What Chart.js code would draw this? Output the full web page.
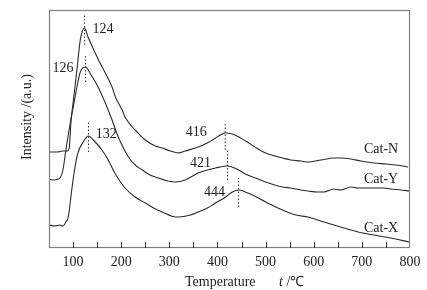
<!DOCTYPE html>
<html><head><meta charset="utf-8">
<script src="https://cdn.jsdelivr.net/npm/chart.js@4.4.0/dist/chart.umd.min.js"></script>
<style>html,body{margin:0;padding:0;background:#fff;}</style>
</head><body>
<canvas id="c" width="427" height="290"></canvas>
<script>
// Temperature (°C) and intensity (a.u.)
const catN_T = [50,67,79,88,92,96,100,108,115,124,131,146,156,167,181,188,202,208,223,233,250,271,285,302,319,333,360,379,396,406,416,431,448,465,481,500,519,535,552,573,588,615,642,656,677,698,725,750,771,796];
const catN_I = [96,96,97,97,100,128,145,178,208,220,211,195,185,175,161,151,138,131,121,116,108,102,100,97,95,97,101,105,110,113,115,114,110,105,100,95,92,90,88,87,86,88,90,90,89,87,85,84,83,81];

const catY_T = [50,60,69,73,79,85,90,96,100,108,115,126,135,152,167,181,194,215,229,244,260,277,296,313,333,360,379,396,421,444,458,473,500,535,552,573,588,608,621,642,656,677,692,725,746,760,781,798];
const catY_I = [69,68,69,70,78,98,113,130,140,161,176,181,175,161,145,128,111,91,83,78,73,70,67,66,68,75,78,80,82,78,74,71,66,61,60,58,57,56,56,59,58,61,60,60,60,59,58,57];

const catX_T = [50,62,73,79,85,90,98,104,110,121,132,142,160,173,188,208,229,250,271,285,313,319,344,360,379,396,417,431,444,458,473,500,535,563,588,621,656,692,725,760,798];
const catX_I = [23,22,23,22,26,31,61,81,95,106,112,108,98,88,74,60,51,45,39,36,31,31,33,36,40,45,51,56,58,56,53,46,38,33,31,26,21,16,13,10,6];

const seriesNames = ['Cat-N','Cat-Y','Cat-X'];
const xTicks = [100,200,300,400,500,600,700,800];

// peak markers: temperature, dotted segment low/high intensity
const peakT = [124,126,132,416,421,444];
const peakLow = [203,166,96,98,68,41];
const peakHigh = [233,193,126,126,98,70];

// text annotations in data coordinates
const noteText = ['124','126','132','416','421','444','Cat-N','Cat-Y','Cat-X'];
const noteT = [162,79,169,356,365,394,740,740,740];
const noteI = [219,180,114,116,85,56,99,69,20];

const FONT = '"Liberation Serif", "Times New Roman", serif';
const LINE = '#2a2a2a';

function pts(T, I){ return T.map((t,i)=>({x:t,y:I[i]})); }

const datasets = [
  {data: pts(catN_T,catN_I)},
  {data: pts(catY_T,catY_I)},
  {data: pts(catX_T,catX_I)}
].map((d,i)=>Object.assign(d,{label:seriesNames[i],borderColor:LINE,borderWidth:1.1,pointRadius:0,cubicInterpolationMode:'monotone',fill:false}));

peakT.forEach((t,i)=>{
  datasets.push({label:'peak'+t,data:[{x:t,y:peakLow[i]},{x:t,y:peakHigh[i]}],borderColor:'#333',borderWidth:1,borderDash:[1.5,2],pointRadius:0,fill:false});
});

const decor = {
  id:'decor',
  afterDraw(chart){
    const ctx = chart.ctx, a = chart.chartArea, xs = chart.scales.x, ys = chart.scales.y;
    ctx.save();
    // frame
    ctx.strokeStyle = '#808080'; ctx.lineWidth = 1.2;
    ctx.strokeRect(a.left+0.5, a.top+0.5, a.right-a.left-1, a.bottom-a.top-1);
    // inward ticks every 50
    ctx.strokeStyle = '#333'; ctx.lineWidth = 1;
    xs.ticks.forEach(tk=>{
      const x = Math.round(xs.getPixelForValue(tk.value))+0.5;
      if (tk.value<=50 || tk.value>=800) return;
      ctx.beginPath(); ctx.moveTo(x,a.bottom); ctx.lineTo(x,a.bottom-6); ctx.stroke();
    });
    // annotations
    ctx.fillStyle = '#222'; ctx.font = '14px '+FONT; ctx.textAlign='center'; ctx.textBaseline='middle';
    noteText.forEach((s,i)=>{ ctx.fillText(s, xs.getPixelForValue(noteT[i]), ys.getPixelForValue(noteI[i])); });
    // x title
    ctx.textAlign='left';
    ctx.fillText('Temperature', 185, 282);
    ctx.font = 'italic 14px '+FONT;
    ctx.fillText('t', 279, 282);
    ctx.font = '14px '+FONT;
    ctx.fillText(' /\u2103', 283, 282);
    // y title
    ctx.translate(27, 117); ctx.rotate(-Math.PI/2); ctx.textAlign='center';
    ctx.fillText('Intensity /(a.u.)', 0, 0);
    ctx.restore();
  }
};

new Chart(document.getElementById('c'), {
  type:'line',
  data:{datasets},
  options:{
    responsive:false, animation:false,
    layout:{padding:{left:49,right:17,top:10,bottom:0}},
    plugins:{legend:{display:false},tooltip:{enabled:false}},
    scales:{
      x:{type:'linear',min:50,max:800,
        afterFit(s){ s.height = 42; },
        grid:{display:false,drawTicks:false},
        border:{display:false},
        ticks:{stepSize:50,autoSkip:false,maxRotation:0,padding:6,color:'#222',font:{family:FONT,size:14},
          callback:(v)=> xTicks.includes(v) ? String(v) : ''}
      },
      y:{type:'linear',min:0,max:238,display:false}
    }
  },
  plugins:[decor]
});
</script>
</body></html>
